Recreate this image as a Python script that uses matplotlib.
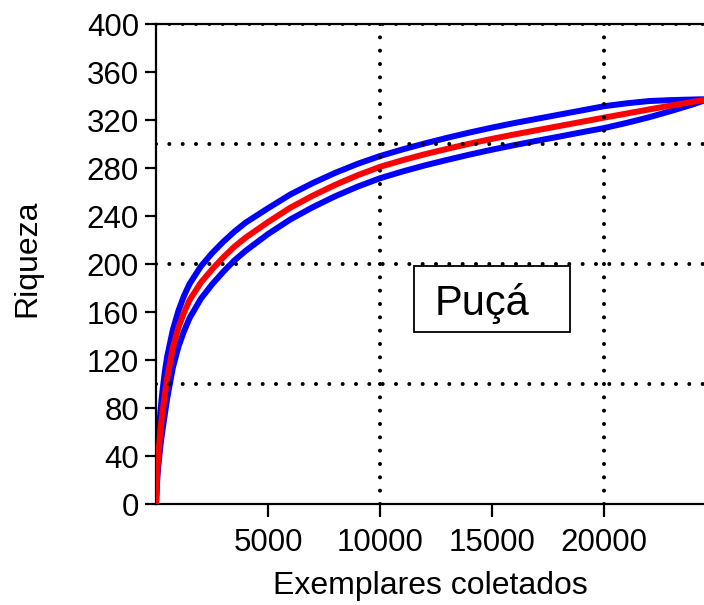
import matplotlib
matplotlib.use('Agg')
import matplotlib.pyplot as plt
from matplotlib.patches import Rectangle

plt.rcParams['font.family'] = ['Liberation Sans', 'DejaVu Sans']

# rarefaction curve (Mao Tau) with upper/lower 95% bounds
exemplares = [0, 50, 100, 200, 300, 400, 500, 750, 1000, 1250, 1500, 2000, 2500,
              3000, 3500, 4000, 5000, 6000, 7000, 8000, 9000, 10000, 11000, 12000,
              13000, 14000, 15000, 16000, 17000, 18000, 19000, 20000, 21000, 22000,
              23000, 24000, 24450]
riqueza = [0, 25, 40, 62, 78, 92, 105, 130, 147, 159.5, 170, 184.5, 195.5,
           205.5, 214.5, 222, 235, 247, 257, 266, 274, 281, 286.5, 291.5,
           296, 300.3, 304.3, 308, 311.5, 315, 318.5, 322, 325.4, 328.8,
           332.1, 335.3, 336.7]
sup95 = [0, 33, 52, 78, 96, 111, 123, 145, 161, 173.5, 183.5, 198, 209,
         218.5, 227, 234.5, 246.5, 258, 267.5, 276, 283.5, 290, 295.5, 300.5,
         305.2, 309.6, 313.7, 317.5, 321, 324.5, 328, 331.5, 333.9, 335.8,
         336.6, 337.1, 337.3]
inf95 = [0, 19, 31, 49, 63, 75.5, 88, 113.5, 131, 144, 155, 171, 183,
         193.5, 203, 211, 225, 237.2, 247.4, 256.5, 264.5, 271.5, 277.1, 282.2,
         286.8, 291.2, 295.3, 299.1, 302.7, 306.2, 309.8, 313.3, 317.6, 322.3,
         327.6, 333.3, 336.2]

xticks = [5000, 10000, 15000, 20000]
yticks = list(range(0, 401, 40))
grid_x = [10000, 20000]
grid_y = [100, 200, 300, 400]

fig = plt.figure(figsize=(7.04, 6.05), dpi=100)
ax = fig.add_axes([156 / 704, 101 / 605, 548 / 704, 480 / 605])

curve = dict(lw=4.3, solid_capstyle='butt', solid_joinstyle='round')
ax.plot(exemplares, sup95, color='#0000FF', zorder=2, **curve)
ax.plot(exemplares, inf95, color='#0000FF', zorder=2, **curve)
ax.plot(exemplares, riqueza, color='#FF0000', zorder=3, **curve)

dots = dict(color='black', lw=2.9, linestyle=(0, (0.01, 3.3)),
            dash_capstyle='round', zorder=4)
for gx in grid_x:
    ax.axvline(gx, **dots)
for gy in grid_y:
    ax.axhline(gy, **dots)

# label box
ax.add_patch(Rectangle((11520, 143), 6960, 55, fill=False, ec='black', lw=1.3, zorder=5))
ax.text(14550, 157.5, 'Puçá', fontsize=30, ha='center', va='baseline', zorder=6)

ax.set_xlim(0, 24450)
ax.set_ylim(0, 400)
ax.set_xticks(xticks)
ax.set_yticks(yticks)
ax.tick_params(axis='both', direction='out', width=1.6, color='black', labelsize=22.5)
ax.tick_params(axis='y', length=8, pad=4.3)
ax.tick_params(axis='x', length=9.4, pad=8)
for s in ('left', 'bottom', 'top'):
    ax.spines[s].set_linewidth(1.6)
ax.spines['right'].set_visible(False)

ax.set_xlabel('Exemplares coletados', fontsize=23, labelpad=9)
ax.set_ylabel('Riqueza', fontsize=23, labelpad=32)
ax.yaxis.label.set_y(0.511)

fig.savefig('out.png', dpi=100, facecolor='white')
